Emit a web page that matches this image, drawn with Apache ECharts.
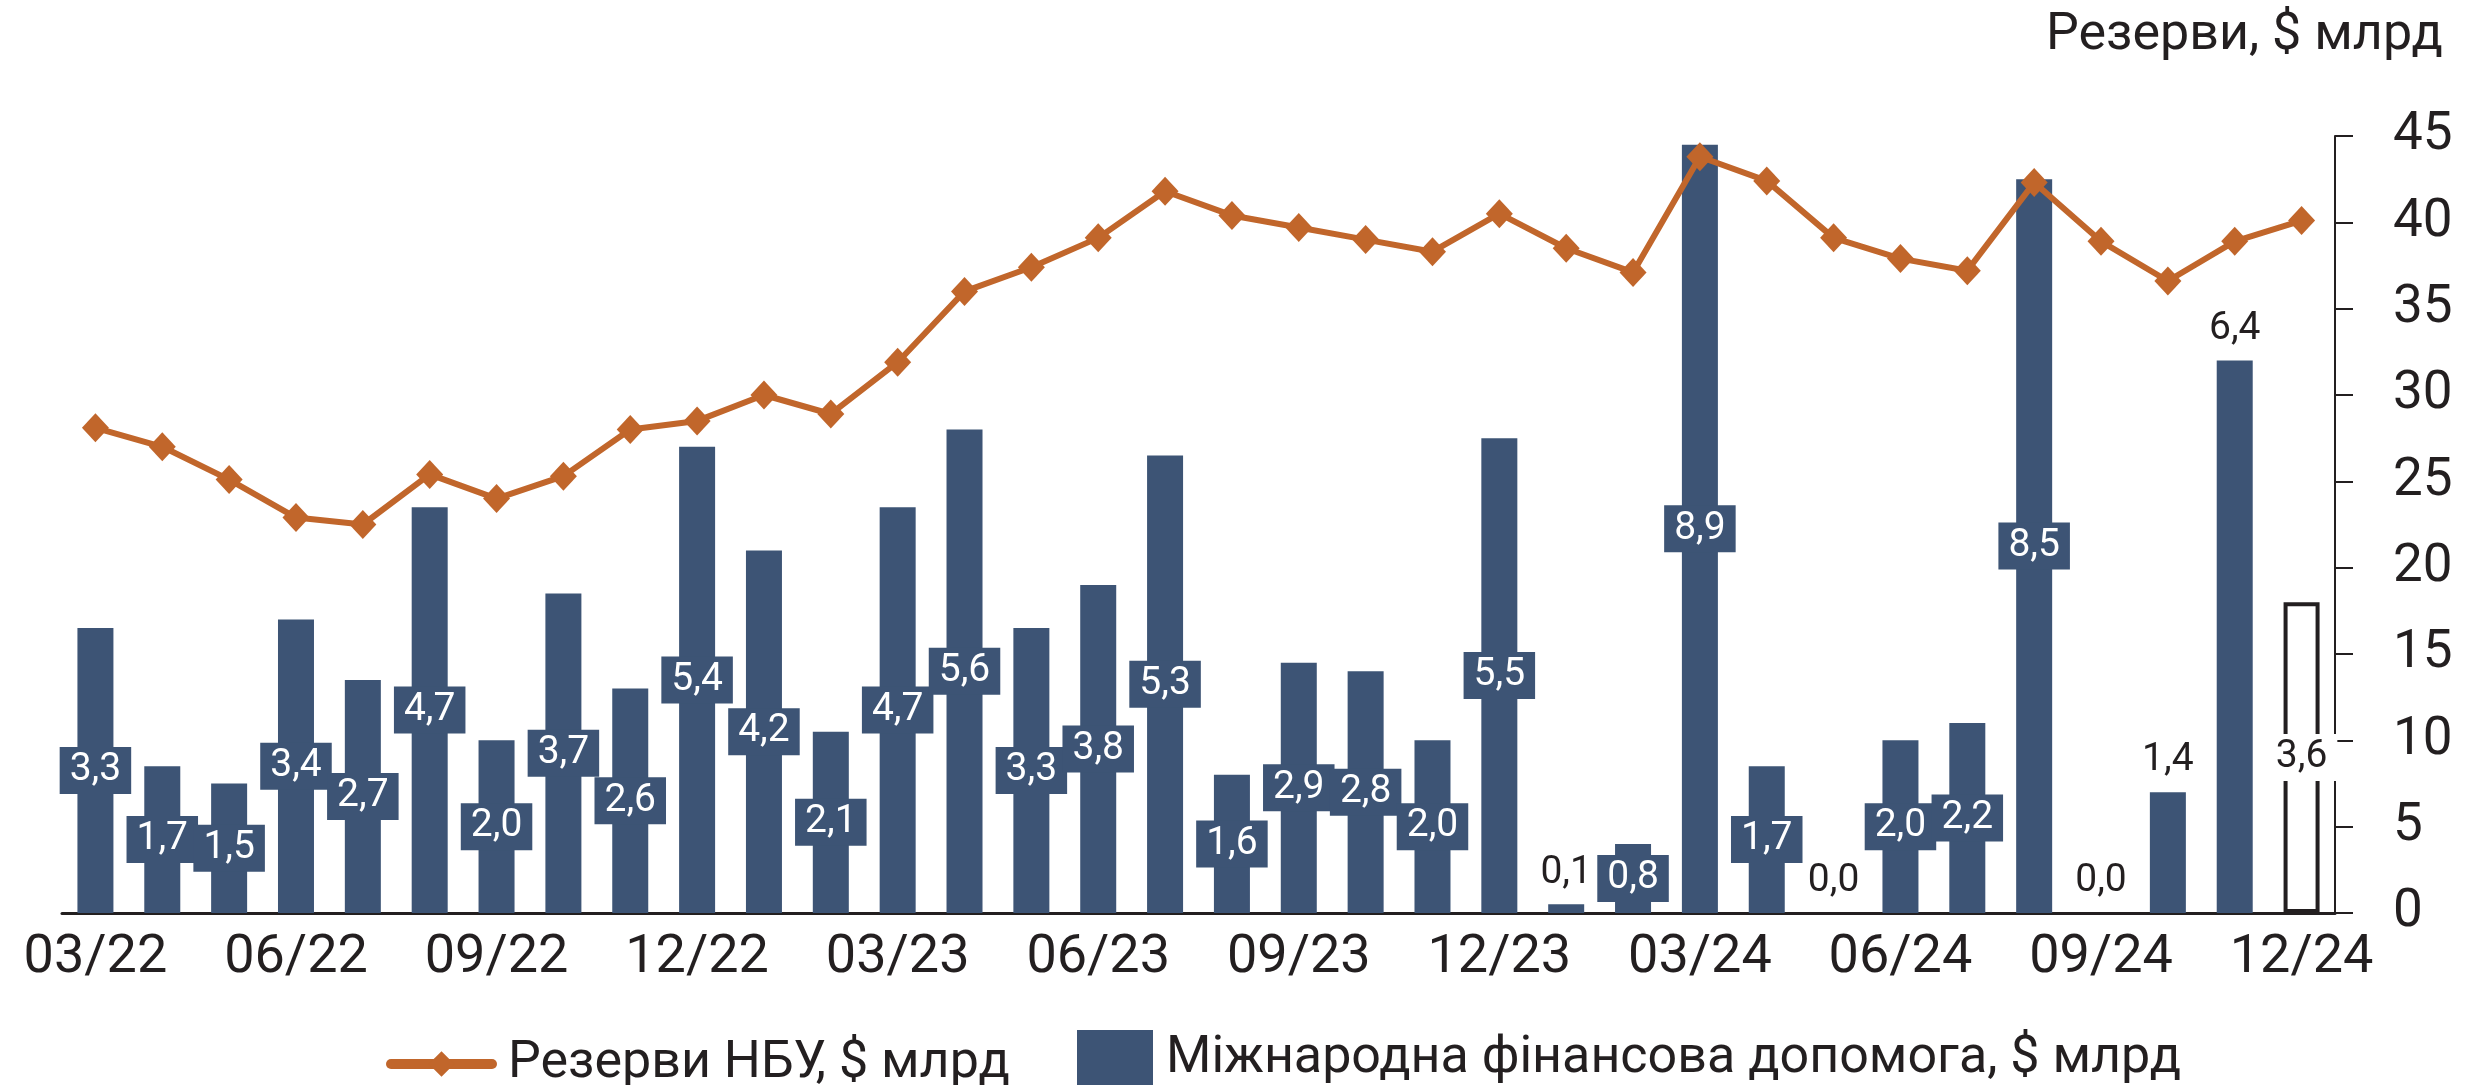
<!DOCTYPE html>
<html>
<head>
	<meta charset="utf-8">
	<title>Резерви НБУ та міжнародна допомога</title>
	<script src="https://cdn.jsdelivr.net/npm/echarts@6/dist/echarts.min.js"></script>
	<style type="text/css">
		body{ margin:0; background:#fff; }
		#main{ width:2487px; height:1085px; }
	</style>
</head>
<body>
<div id="main"></div>
<script type="text/javascript">
	// місяці 03/22 ... 12/24
	var months = ['03/22','04/22','05/22','06/22','07/22','08/22','09/22','10/22','11/22','12/22',
		'01/23','02/23','03/23','04/23','05/23','06/23','07/23','08/23','09/23','10/23','11/23','12/23',
		'01/24','02/24','03/24','04/24','05/24','06/24','07/24','08/24','09/24','10/24','11/24','12/24'];

	// резерви НБУ, $ млрд
	var reserves = [28.1, 27.0, 25.1, 22.9, 22.5, 25.4, 24.0, 25.3, 28.0, 28.5,
		30.0, 28.9, 31.9, 36.0, 37.4, 39.1, 41.8, 40.4, 39.7, 39.0, 38.3, 40.5,
		38.5, 37.1, 43.8, 42.4, 39.1, 37.9, 37.2, 42.3, 38.9, 36.6, 38.9, 40.1];

	// міжнародна фінансова допомога, $ млрд
	var aid = [3.3, 1.7, 1.5, 3.4, 2.7, 4.7, 2.0, 3.7, 2.6, 5.4,
		4.2, 2.1, 4.7, 5.6, 3.3, 3.8, 5.3, 1.6, 2.9, 2.8, 2.0, 5.5,
		0.1, 0.8, 8.9, 1.7, 0.0, 2.0, 2.2, 8.5, 0.0, 1.4, 6.4, 3.6];

	// підписи над стовпчиками (замість всередині)
	var topLabels = [22, 26, 30, 31, 32];
	// останній місяць - контур
	var outlineIdx = 33;

	var reserveTicks = [0, 5, 10, 15, 20, 25, 30, 35, 40, 45];

	var dark = '#231f20';
	var blue = '#3d5475';
	var orange = '#c1662b';
	var font = 'Roboto';

	var barData = aid.map(function(v, i){
		var item = { value: v };
		if(topLabels.indexOf(i) >= 0){
			item.label = {
				position: 'top',
				distance: 12,
				color: dark,
				backgroundColor: 'transparent',
				padding: 0
			};
		}
		if(i === outlineIdx){
			item.itemStyle = { color: '#fff', borderColor: dark, borderWidth: 4 };
			item.label = {
				position: 'inside',
				color: dark,
				backgroundColor: '#fff'
			};
		}
		return item;
	});

	var myChart = echarts.init(document.getElementById('main'));

	var option = {
		animation: false,
		title: {
			text: 'Резерви, $ млрд',
			right: 39,
			top: 5,
			textStyle: { fontFamily: font, fontSize: 52, fontWeight: 'normal', color: dark }
		},
		legend: [{
			data: ['Резерви НБУ, $ млрд'],
			left: 381,
			top: 1033,
			itemWidth: 101,
			itemHeight: 32,
			lineStyle: { width: 10, cap: 'round' },
			textStyle: { fontFamily: font, fontSize: 52, color: dark, padding: [0, 0, 0, 11] }
		}, {
			data: [{ name: 'Міжнародна фінансова допомога, $ млрд', icon: 'rect' }],
			left: 1072,
			top: 1025,
			itemWidth: 76,
			itemHeight: 57,
			textStyle: { fontFamily: font, fontSize: 52, color: dark, padding: [0, 0, 0, 8] }
		}],
		grid: {
			left: 62,
			right: 152,
			top: 136,
			bottom: 172,
			containLabel: false
		},
		xAxis: {
			type: 'category',
			data: months,
			boundaryGap: true,
			axisLine: { lineStyle: { color: dark, width: 3 } },
			axisTick: { show: false },
			axisLabel: {
				interval: 2,
				margin: 18,
				fontFamily: font,
				fontSize: 54,
				color: dark
			}
		},
		yAxis: [{
			type: 'value',
			position: 'right',
			min: 0,
			max: 45,
			interval: 5,
			splitLine: { show: false },
			axisLine: { show: true, lineStyle: { color: dark, width: 2 } },
			axisTick: { show: true, length: 18, lineStyle: { color: dark, width: 2 } },
			axisLabel: {
				margin: 58,
				fontFamily: font,
				fontSize: 53,
				color: dark,
				formatter: function(v){ return reserveTicks.indexOf(v) >= 0 ? String(v) : ''; }
			}
		}, {
			type: 'value',
			position: 'left',
			min: 0,
			max: 9,
			show: false,
			splitLine: { show: false }
		}],
		series: [{
			name: 'Міжнародна фінансова допомога, $ млрд',
			type: 'bar',
			yAxisIndex: 1,
			barWidth: 36,
			itemStyle: { color: blue },
			label: {
				show: true,
				position: 'inside',
				fontFamily: font,
				fontSize: 39,
				lineHeight: 39,
				color: '#fff',
				backgroundColor: blue,
				padding: [4, 10, 4, 10],
				formatter: function(p){ return p.value.toFixed(1).replace('.', ','); }
			},
			data: barData,
			z: 2
		}, {
			name: 'Резерви НБУ, $ млрд',
			type: 'line',
			yAxisIndex: 0,
			data: reserves,
			symbol: 'diamond',
			symbolSize: [27, 29],
			itemStyle: { color: orange },
			lineStyle: { color: orange, width: 6 },
			z: 5
		}]
	};

	myChart.setOption(option);
</script>
</body>
</html>
